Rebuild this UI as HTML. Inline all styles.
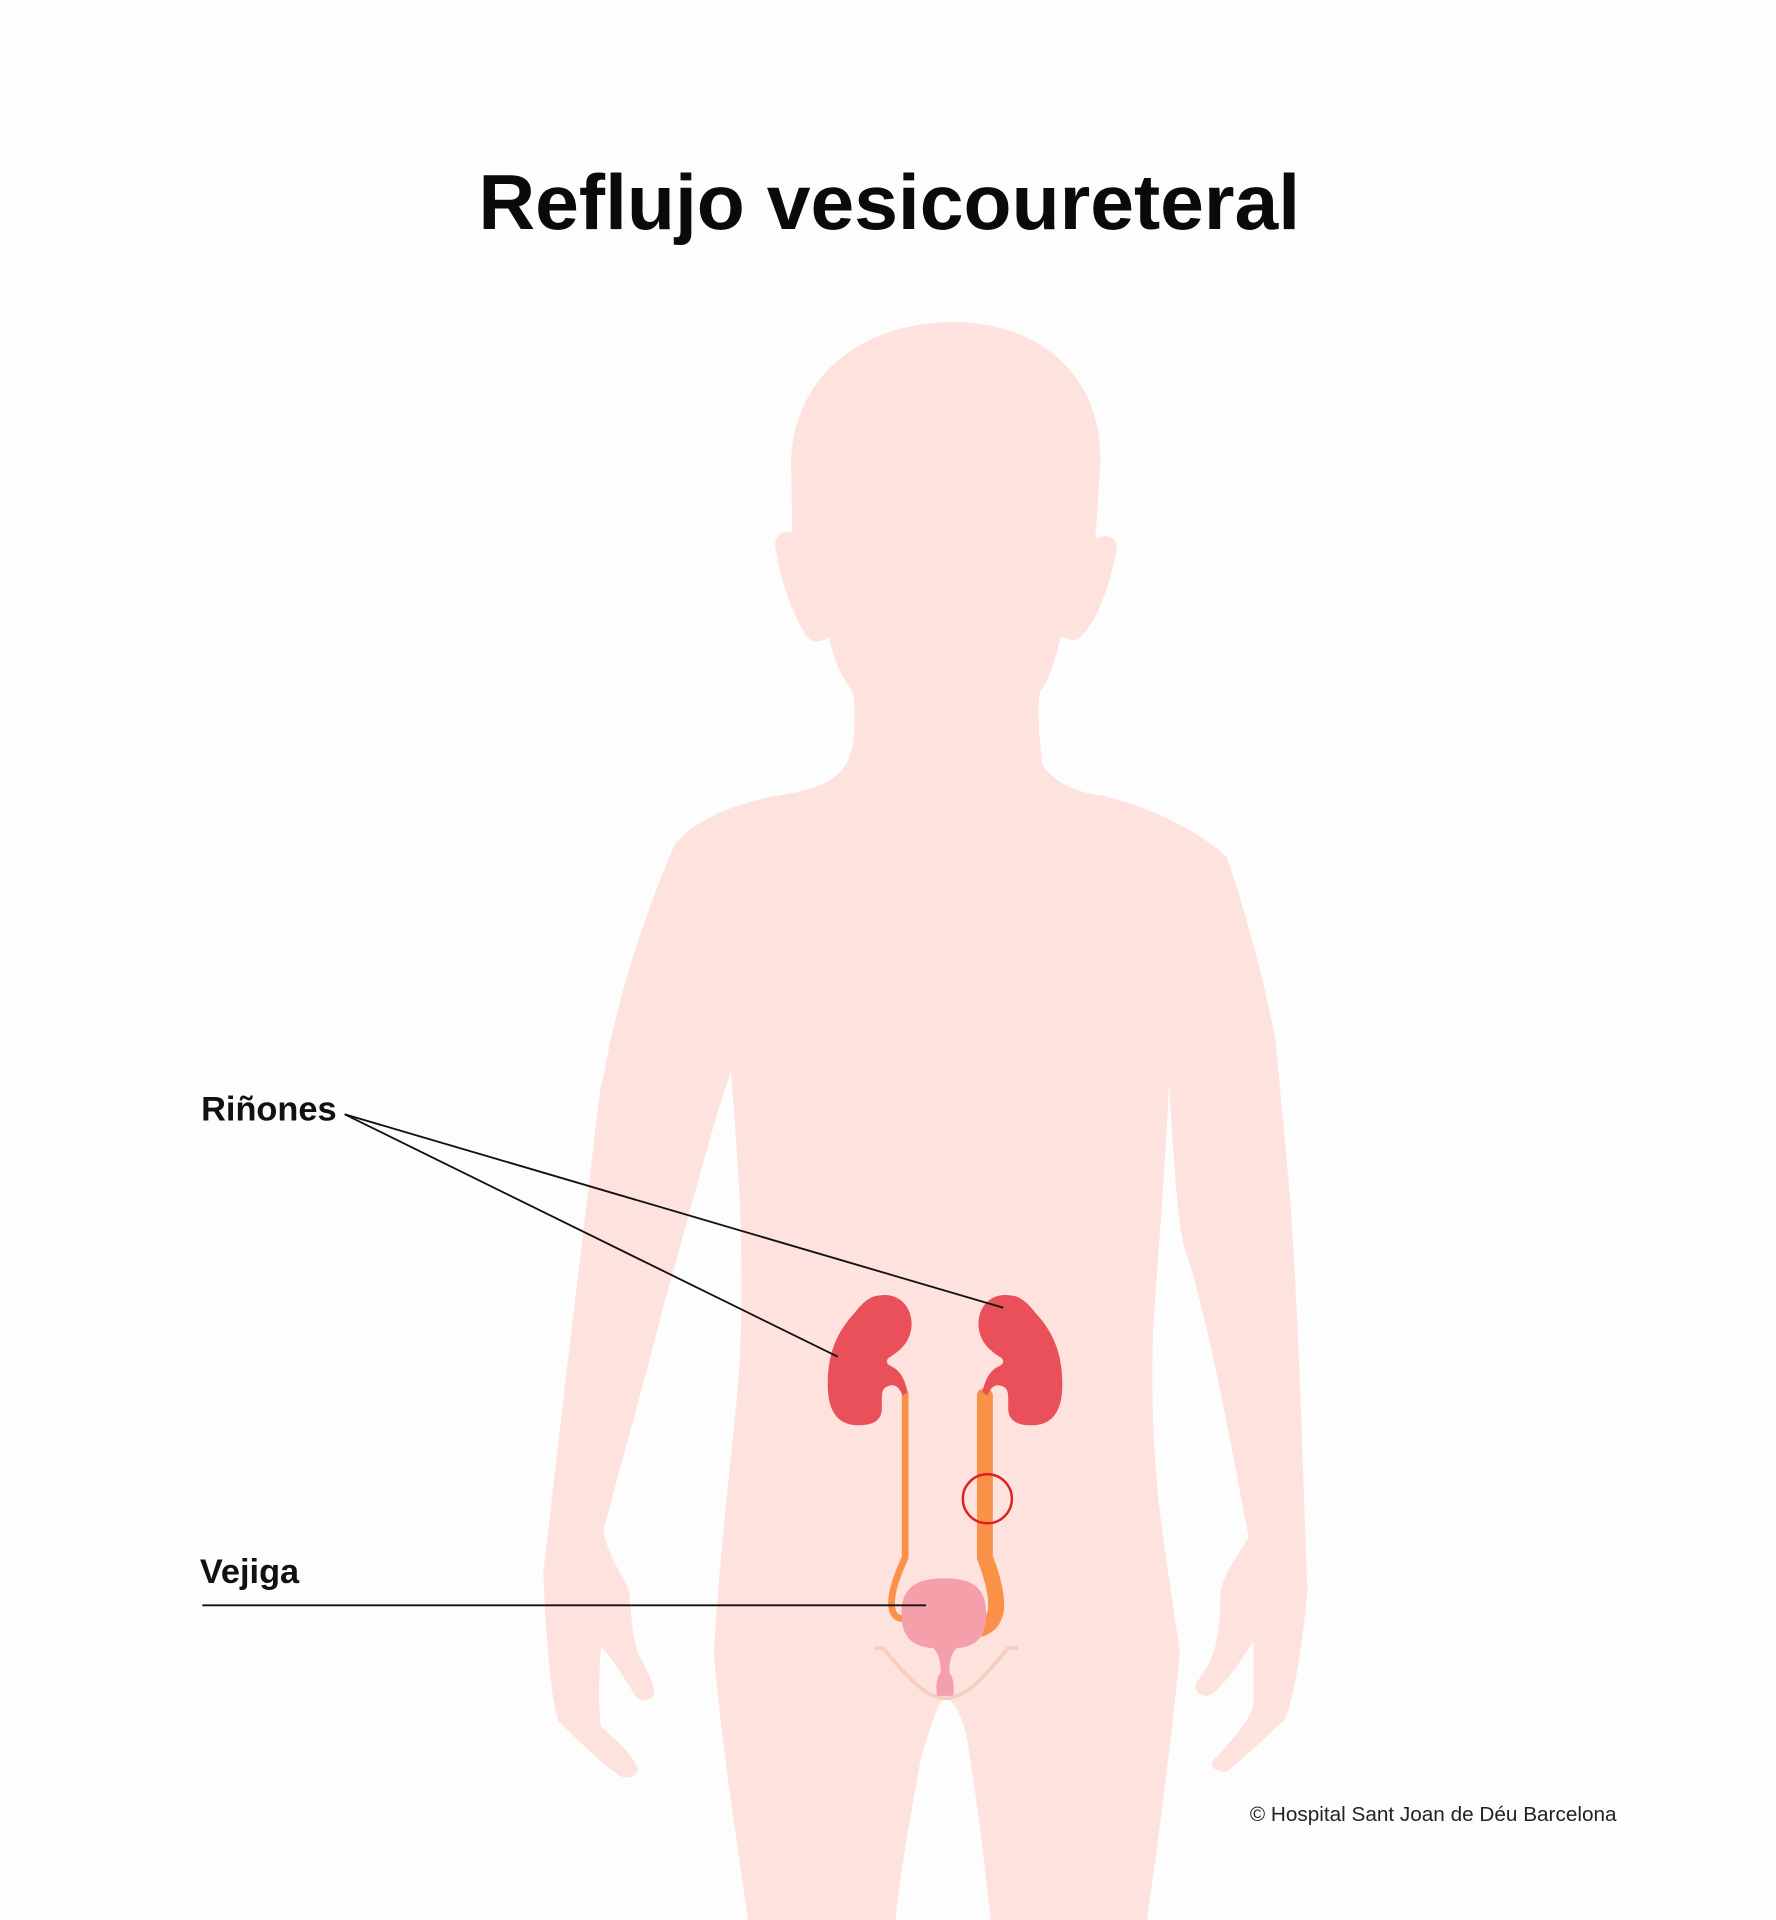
<!DOCTYPE html>
<html><head><meta charset="utf-8"><style>
html,body{margin:0;padding:0;background:#fdfdfd;}
svg{display:block;}
</style></head><body>
<svg width="1776" height="1920" viewBox="0 0 1448 1568" preserveAspectRatio="none" xmlns="http://www.w3.org/2000/svg">
<rect width="1448" height="1568" fill="#fdfdfd"/>
<text x="725" y="187" text-anchor="middle" font-family="Liberation Sans, sans-serif" font-weight="bold" font-size="64" fill="#0a0a0a" textLength="670" lengthAdjust="spacingAndGlyphs">Reflujo vesicoureteral</text>
<path fill="#fde2dd" d="M775,263 C850,262 900,310 897,380 L893,440 C905,435 912,440 910,450 C905,480 890,520 875,523 L865,520 C860,540 855,555 848,565 C845,580 848,610 850,625 C860,640 880,648 900,650 C940,660 980,680 1000,700 C1015,740 1035,820 1040,850 L1052,980 C1060,1100 1062,1200 1066,1300 C1062,1340 1055,1390 1047,1405 C1030,1420 1010,1440 1000,1447 C988,1447 985,1440 992,1435 C1010,1415 1022,1400 1022,1390 L1022,1340 C1010,1360 995,1380 985,1385 C975,1385 972,1378 977,1372 C990,1355 995,1340 995,1300 C1000,1280 1010,1270 1018,1255 C1000,1160 985,1080 968,1025 C960,1010 957,940 953,885 C950,960 942,1050 940,1090 C938,1150 942,1200 945,1230 C950,1270 958,1320 962,1350 C955,1420 945,1500 935,1568 L808,1568 C800,1500 795,1460 790,1430 C788,1410 780,1390 770,1385 C763,1395 755,1420 750,1440 C745,1470 735,1520 730,1568 L610,1568 C600,1500 588,1420 582,1350 C586,1280 595,1200 600,1150 C605,1100 605,1060 604,1000 C602,950 598,900 596,875 C580,920 560,1000 540,1070 C525,1130 505,1200 492,1250 C495,1270 510,1290 513,1300 C515,1320 515,1335 520,1350 C528,1365 535,1378 533,1385 C528,1390 522,1390 518,1385 C510,1372 500,1355 490,1345 C488,1370 488,1400 490,1410 C500,1420 515,1430 520,1445 C518,1452 510,1453 505,1450 C490,1440 470,1420 455,1405 C448,1380 445,1330 443,1285 C455,1180 470,1050 480,970 C485,930 488,890 492,880 C500,830 520,760 550,690 C570,665 610,653 650,647 C680,640 690,630 695,610 C697,600 698,575 695,565 C685,550 680,540 676,520 C670,525 662,525 658,520 C645,500 635,470 632,445 C632,437 638,433 646,435 L645,380 C645,310 700,264 775,263 Z"/>
<path d="M713,1346 L720,1346 C740,1370 755,1387 771,1387 C787,1387 802,1370 822,1346 L830,1346" fill="none" stroke="#f6cdbf" stroke-width="3"/>
<path d="M738,1138 L738,1272 C732,1285 726,1300 727,1312 C728,1320 732,1322 737,1322" fill="none" stroke="#fa9148" stroke-width="5.5" stroke-linecap="round"/>
<path d="M803,1140 L803,1272 C810,1290 813,1305 812,1315 C810,1325 805,1328 800,1330" fill="none" stroke="#fa9148" stroke-width="13" stroke-linecap="round"/>
<path fill="#f59fab" d="M770,1289 C795,1289 804,1298 804,1318 C804,1338 795,1345 780,1346 C776,1350 774,1356 774,1366 C778,1370 778,1380 777,1385 L764,1385 C763,1380 763,1370 767,1366 C767,1356 765,1350 761,1346 C745,1345 735,1338 735,1318 C735,1298 745,1289 770,1289 Z"/>
<g fill="#e9505a">
<path d="M717,1058 C735,1055 745,1070 743,1085 C741,1098 732,1104 726,1108 C722,1110 722,1114 727,1116 C735,1120 738,1128 740,1137 L736,1140 C733,1132 729,1130 724,1132 C718,1134 719,1140 719,1150 C719,1160 712,1164 700,1164 C685,1164 676,1155 675,1135 C674,1110 680,1090 697,1072 C703,1064 710,1058 717,1058 Z"/>
<path transform="translate(1541,0) scale(-1,1)" d="M717,1058 C735,1055 745,1070 743,1085 C741,1098 732,1104 726,1108 C722,1110 722,1114 727,1116 C735,1120 738,1128 740,1137 L736,1140 C733,1132 729,1130 724,1132 C718,1134 719,1140 719,1150 C719,1160 712,1164 700,1164 C685,1164 676,1155 675,1135 C674,1110 680,1090 697,1072 C703,1064 710,1058 717,1058 Z"/>
</g>
<circle cx="805" cy="1224" r="20" fill="none" stroke="#e02020" stroke-width="2"/>
<g stroke="#111" stroke-width="1.5">
<line x1="281" y1="910" x2="683" y2="1108"/>
<line x1="281" y1="910" x2="818" y2="1068"/>
<line x1="165" y1="1311" x2="755" y2="1311"/>
</g>
<g font-family="Liberation Sans, sans-serif" font-size="28" fill="#111" font-weight="bold">
<text x="164" y="915">Riñones</text>
<text x="163" y="1293">Vejiga</text>
</g>
<text x="1019" y="1487" font-family="Liberation Sans, sans-serif" font-size="16.5" fill="#222" textLength="299" lengthAdjust="spacingAndGlyphs">© Hospital Sant Joan de Déu Barcelona</text>
</svg>
</body></html>
